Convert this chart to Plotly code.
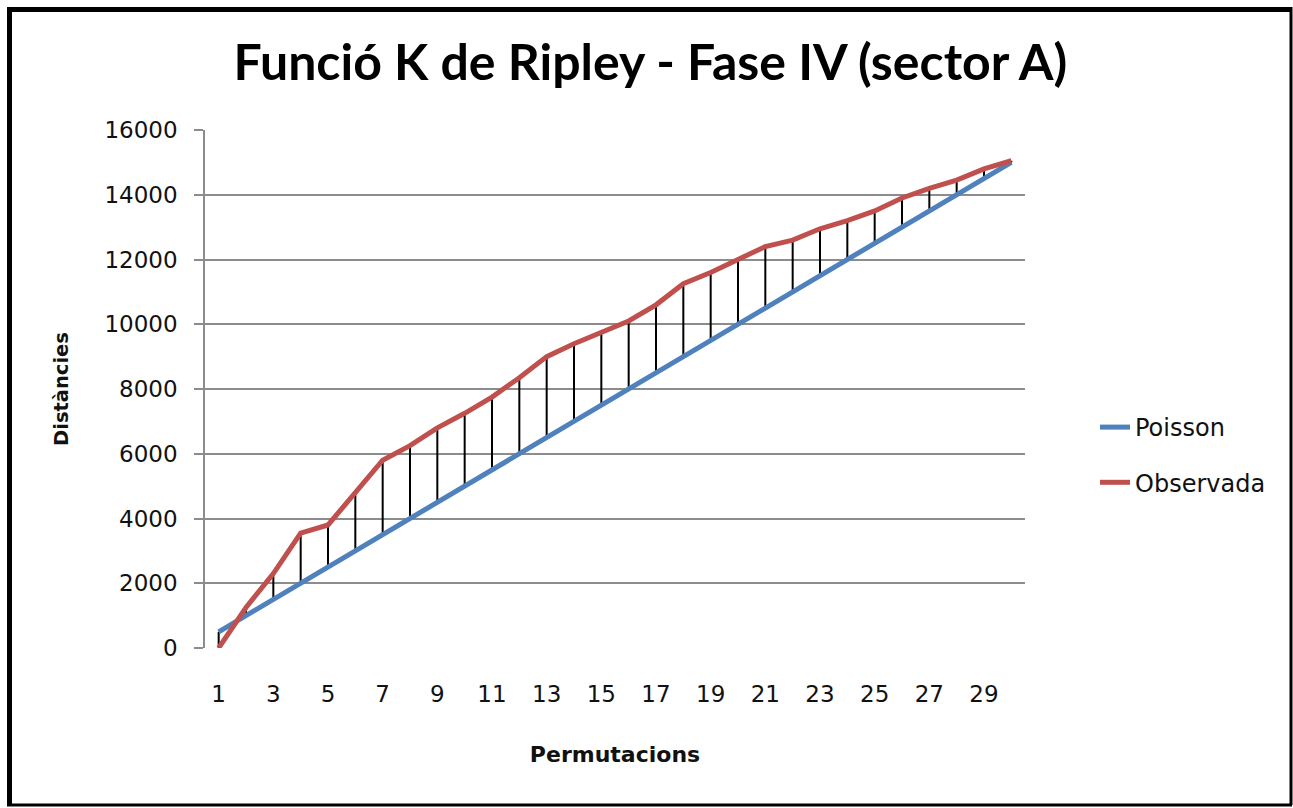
import plotly.graph_objects as go

# Permutation index (category axis)
permutacions = list(range(1, 31))

# Expected K under complete spatial randomness
poisson = [500, 1000, 1500, 2000, 2500, 3000, 3500, 4000, 4500, 5000,
           5500, 6000, 6500, 7000, 7500, 8000, 8500, 9000, 9500, 10000,
           10500, 11000, 11500, 12000, 12500, 13000, 13500, 14000, 14500, 15000]

# Observed K values
observada = [0, 1250, 2300, 3550, 3800, 4800, 5800, 6250, 6800, 7250,
             7750, 8350, 9000, 9400, 9750, 10100, 10600, 11250, 11600, 12000,
             12400, 12600, 12950, 13200, 13500, 13900, 14200, 14450, 14800, 15050]

x_tick_values = list(range(1, 31, 2))
x_tick_labels = [str(v) for v in x_tick_values]
y_tick_values = list(range(0, 16001, 2000))
y_tick_labels = [str(v) for v in y_tick_values]

TITLE_FONT = "Lato"
TEXT_FONT = "DejaVu Sans"
W, H = 1293, 808
M_L, M_R, M_T, M_B = 205, 268, 130, 160
PW, PH = W - M_L - M_R, H - M_T - M_B


def px_x(p):
    return (p - M_L) / PW


def px_y(p):
    return (H - M_B - p) / PH


# high-low connectors between the two series
hl_x, hl_y = [], []
for xv, lo, hi in zip(permutacions, poisson, observada):
    hl_x += [xv, xv, None]
    hl_y += [lo, hi, None]

fig = go.Figure()
fig.add_trace(go.Scatter(
    x=hl_x, y=hl_y, mode="lines", showlegend=False, hoverinfo="skip",
    line=dict(color="#000000", width=2),
))
fig.add_trace(go.Scatter(
    x=permutacions, y=poisson, mode="lines", name="Poisson",
    legendgroup="a", line=dict(color="#4F81BD", width=5),
))
fig.add_trace(go.Scatter(
    x=permutacions, y=observada, mode="lines", name="Observada",
    legendgroup="b", line=dict(color="#C0504D", width=5),
))

# outer chart frame
frame = [
    (px_x(7), px_y(9.5), px_x(1291), px_y(9.5), 5),
    (px_x(9.5), px_y(7), px_x(9.5), px_y(805), 5),
    (px_x(1291), px_y(7), px_x(1291), px_y(805), 3),
    (px_x(7), px_y(805), px_x(1292), px_y(805), 3),
]
shapes = [
    dict(type="line", xref="paper", yref="paper", x0=a, y0=b, x1=c, y1=d,
         line=dict(color="#000000", width=w))
    for a, b, c, d, w in frame
]

fig.update_layout(
    width=W, height=H,
    margin=dict(l=M_L, r=M_R, t=M_T, b=M_B),
    paper_bgcolor="white", plot_bgcolor="white",
    font=dict(family=TEXT_FONT, color="#111111"),
    title=dict(
        text="<b>Funció K de Ripley - Fase IV (sector A)</b>",
        x=0.503, xanchor="center", xref="container",
        y=1 - 62 / H, yanchor="middle", yref="container",
        font=dict(family=TITLE_FONT, size=50, color="#000000"),
    ),
    xaxis=dict(
        range=[0.5, 30.5],
        tickvals=x_tick_values, ticktext=x_tick_labels,
        showgrid=False, zeroline=False, showline=False, ticks="",
        ticklabelstandoff=30,
        tickfont=dict(family=TEXT_FONT, size=23, color="#111111"),
        title=dict(text="<b>Permutacions</b>", standoff=40,
                   font=dict(family=TEXT_FONT, size=22, color="#111111")),
    ),
    yaxis=dict(
        range=[0, 16000],
        tickvals=y_tick_values, ticktext=y_tick_labels,
        showgrid=True, gridcolor="#8C8C8C", gridwidth=1.5,
        zeroline=False,
        showline=True, linecolor="#8C8C8C", linewidth=1.5,
        ticks="outside", ticklen=9, tickcolor="#8C8C8C", tickwidth=1.5,
        ticklabelstandoff=12,
        tickfont=dict(family=TEXT_FONT, size=23, color="#111111"),
        title=dict(text="<b>Distàncies</b>", standoff=31,
                   font=dict(family=TEXT_FONT, size=19.5, color="#111111")),
    ),
    legend=dict(
        x=px_x(1095), xanchor="left",
        y=px_y(455), yanchor="middle",
        font=dict(family=TEXT_FONT, size=24, color="#111111"),
        tracegroupgap=21, itemwidth=30,
        bgcolor="rgba(0,0,0,0)",
    ),
    shapes=shapes,
    showlegend=True,
)

fig.write_html("out.html")
